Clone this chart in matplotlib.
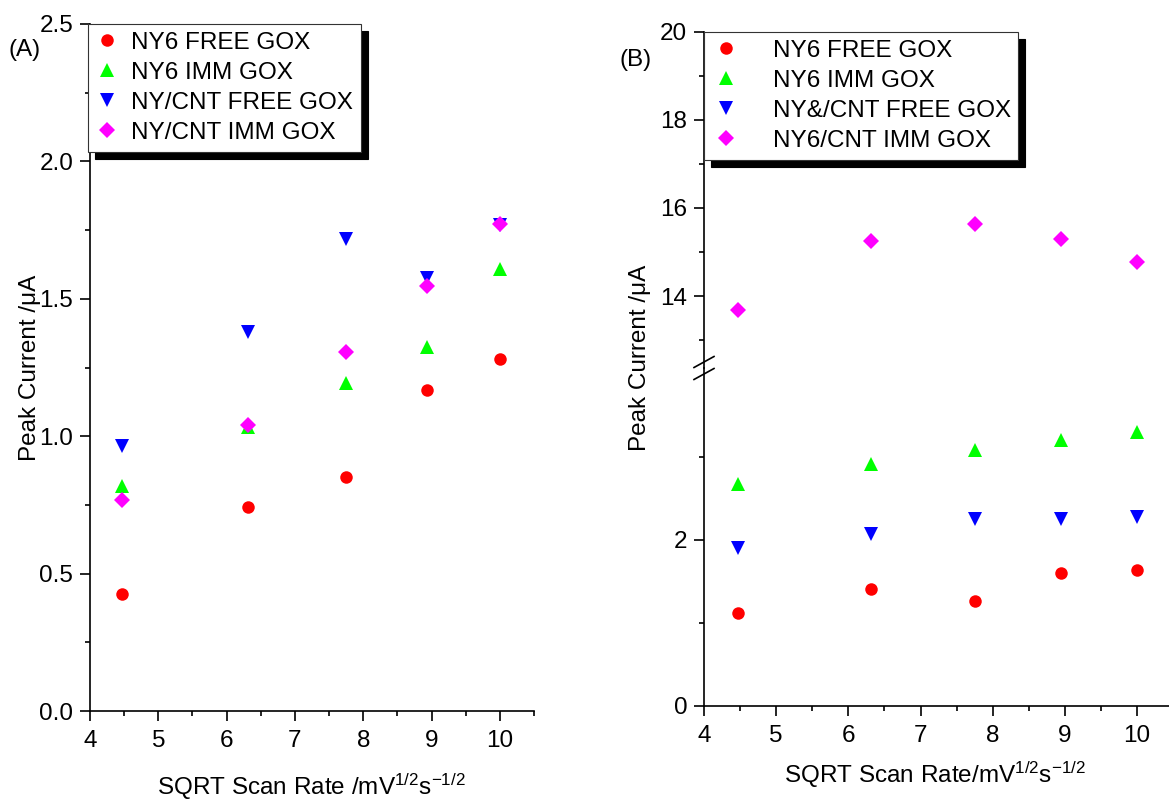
import numpy as np
import matplotlib
matplotlib.use("Agg")
import matplotlib.pyplot as plt
from matplotlib.ticker import MultipleLocator, FixedLocator, FormatStrFormatter
from matplotlib.lines import Line2D

plt.rcParams['font.family'] = ['Liberation Sans', 'DejaVu Sans']
plt.rcParams['mathtext.default'] = 'regular'

# sqrt of scan rate (20, 40, 60, 80, 100 mV/s)
x_rate = [4.47, 6.32, 7.75, 8.94, 10.0]

# panel A
a_ny6_free = [0.426, 0.742, 0.853, 1.167, 1.280]
a_ny6_imm = [0.818, 1.035, 1.195, 1.326, 1.610]
a_cnt_free = [0.966, 1.380, 1.716, 1.576, 1.770]
a_cnt_imm = [0.769, 1.040, 1.305, 1.545, 1.771]
a_labels = ["NY6 FREE GOX", "NY6 IMM GOX", "NY/CNT FREE GOX", "NY/CNT IMM GOX"]

# panel B
b_ny6_free = [1.124, 1.406, 1.265, 1.599, 1.635]
b_ny6_imm = [2.67, 2.915, 3.08, 3.205, 3.30]
b_cnt_free = [1.90, 2.07, 2.253, 2.253, 2.28]
b_cnt_imm = [13.69, 15.24, 15.64, 15.30, 14.78]
b_labels = ["NY6 FREE GOX", "NY6 IMM GOX", "NY&/CNT FREE GOX", "NY6/CNT IMM GOX"]

colors = ['#ff0000', '#00ff00', '#0000ff', '#ff00ff']
markers = ['o', '^', 'v', 'D']
msizes = [9, 10, 10, 7.7]

W, H = 1169, 802
fig = plt.figure(figsize=(W / 100, H / 100), dpi=100)

FS = 17.5
lw = 1.2


def px_axes(x0, y_top, x1, y_bot):
    return fig.add_axes([x0 / W, 1 - y_bot / H, (x1 - x0) / W, (y_bot - y_top) / H])


def style(ax):
    for s in ['top', 'right']:
        ax.spines[s].set_visible(False)
    for s in ['left', 'bottom']:
        ax.spines[s].set_linewidth(lw)
    ax.tick_params(which='major', direction='out', length=7, width=lw, labelsize=FS, pad=5)
    ax.tick_params(axis='x', which='major', pad=7)
    ax.tick_params(which='minor', direction='out', length=3.6, width=lw)


shadow = {'ox': 5, 'oy': -5, 'facecolor': 'black', 'edgecolor': 'black', 'alpha': 1}

# ---- panel A ----
ax1 = px_axes(90, 24, 534, 711)
style(ax1)
a_series = [a_ny6_free, a_ny6_imm, a_cnt_free, a_cnt_imm]
handles = []
for ys, c, m, ms, lab in zip(a_series, colors, markers, msizes, a_labels):
    h, = ax1.plot(x_rate, ys, linestyle='none', marker=m, color=c, ms=ms,
                  markeredgewidth=0, label=lab, clip_on=False)
    handles.append(h)
ax1.set_xlim(4, 10.5)
ax1.set_ylim(0, 2.5)
ax1.xaxis.set_major_locator(MultipleLocator(1))
ax1.xaxis.set_minor_locator(MultipleLocator(0.5))
ax1.yaxis.set_major_locator(MultipleLocator(0.5))
ax1.yaxis.set_minor_locator(MultipleLocator(0.25))
ax1.yaxis.set_major_formatter(FormatStrFormatter('%.1f'))
leg1 = ax1.legend(handles=handles, loc='upper left', bbox_to_anchor=(88 / W, 1 - 24 / H),
                  bbox_transform=fig.transFigure, borderaxespad=0, fontsize=FS,
                  frameon=True, fancybox=False, framealpha=1, edgecolor='#333333',
                  shadow=shadow, handlelength=0.95, handletextpad=0.5,
                  labelspacing=0.33, borderpad=0.32)
leg1.get_frame().set_linewidth(0.8)

# ---- panel B (broken y axis) ----
ax2 = px_axes(704, 368, 1180.5, 706)
ax3 = px_axes(704, 32, 1180.5, 368)
for ax in (ax2, ax3):
    style(ax)
    ax.set_xlim(4, 10.6)
    ax.patch.set_alpha(0)
ax3.spines['bottom'].set_visible(False)
ax3.tick_params(axis='x', which='both', bottom=False, labelbottom=False)

ax2.set_ylim(0, 338 / 83)
ax3.set_ylim(20 - 336 / 44, 20)
ax2.xaxis.set_major_locator(MultipleLocator(1))
ax2.xaxis.set_minor_locator(MultipleLocator(0.5))
ax2.yaxis.set_major_locator(FixedLocator([0, 2]))
ax2.yaxis.set_minor_locator(FixedLocator([1, 3]))
ax3.yaxis.set_major_locator(FixedLocator([14, 16, 18, 20]))
ax3.yaxis.set_minor_locator(FixedLocator([13, 15, 17, 19]))

b_handles = []
for ys, c, m, ms, lab in zip([b_ny6_free, b_ny6_imm, b_cnt_free], colors[:3], markers[:3],
                              msizes[:3], b_labels[:3]):
    h, = ax2.plot(x_rate, ys, linestyle='none', marker=m, color=c, ms=ms,
                  markeredgewidth=0, label=lab)
    b_handles.append(h)
h, = ax3.plot(x_rate, b_cnt_imm, linestyle='none', marker=markers[3], color=colors[3],
              ms=msizes[3], markeredgewidth=0, label=b_labels[3])
b_handles.append(h)

leg2 = ax3.legend(handles=b_handles, loc='upper left', bbox_to_anchor=(704 / W, 1 - 32 / H),
                  bbox_transform=fig.transFigure, borderaxespad=0, fontsize=FS,
                  frameon=True, fancybox=False, framealpha=1, edgecolor='#333333',
                  shadow=shadow, handlelength=1.2, handletextpad=1.3,
                  labelspacing=0.33, borderpad=0.32)
leg2.get_frame().set_linewidth(0.8)

# break marks on the y axis
for dy in (-6, 6):
    yc = 368 + dy
    fig.add_artist(Line2D([694 / W, 714 / W], [1 - (yc + 5.5) / H, 1 - (yc - 5.5) / H],
                          color='black', lw=lw))

# labels
fig.text(30 / W, 1 - 368 / H, "Peak Current /\u03bcA", rotation=90, ha='center', va='center', fontsize=FS)
fig.text(311 / W, 1 - 787 / H, "SQRT Scan Rate /mV$^{1/2}$s$^{-1/2}$", ha='center', va='center', fontsize=FS)
fig.text(640 / W, 1 - 358 / H, "Peak Current /\u03bcA", rotation=90, ha='center', va='center', fontsize=FS)
fig.text(935 / W, 1 - 775 / H, "SQRT Scan Rate/mV$^{1/2}$s$^{-1/2}$", ha='center', va='center', fontsize=FS)
fig.text(25 / W, 1 - 50 / H, "(A)", ha='center', va='center', fontsize=FS)
fig.text(636 / W, 1 - 60 / H, "(B)", ha='center', va='center', fontsize=FS)

fig.savefig("out.png", dpi=100)
